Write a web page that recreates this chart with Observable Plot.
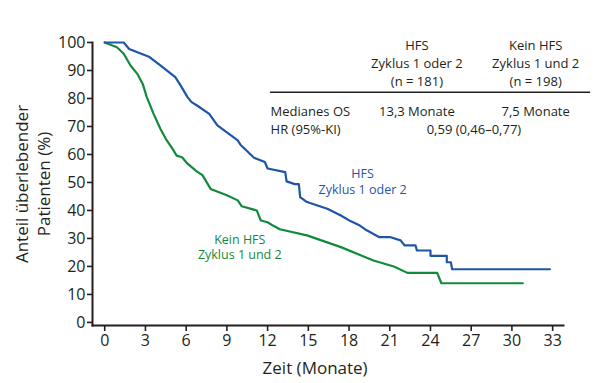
<!DOCTYPE html>
<html><head><meta charset="utf-8">
<script src="https://cdn.jsdelivr.net/npm/d3@7"></script>
<script src="https://cdn.jsdelivr.net/npm/@observablehq/plot@0.6"></script>
<style>body{margin:0;background:#fff}</style>
</head><body><div id="chart"></div>
<script>
// HFS Zyklus 1 oder 2 (n = 181)
const hfsMonths   = [0, 1.4, 1.8, 3.3, 4.1, 5.2, 5.6, 6.1, 6.4, 6.8, 7.7, 8.3, 9.8, 10.0, 11.0, 11.8, 12.0, 13.3, 13.4, 14.0, 14.3, 14.4, 14.9, 16.4, 17.4, 18.1, 18.8, 19.3, 20.2, 21.0, 21.8, 22.1, 22.9, 23.0, 24.0, 24.0, 25.2, 25.2, 25.5, 25.6, 32.8];
const hfsSurvival = [100, 100, 97.7, 94.8, 91.8, 87.6, 84.6, 80.5, 78.7, 77.5, 74.5, 70.4, 65.0, 63.5, 58.8, 57.3, 55.0, 53.7, 50.4, 49.4, 49.4, 44.8, 43.0, 40.6, 38.2, 36.2, 34.6, 32.9, 30.5, 30.5, 29.3, 27.5, 27.5, 25.7, 25.7, 23.8, 23.8, 21.5, 21.5, 19.0, 19.0];
// Kein HFS Zyklus 1 und 2 (n = 198)
const noHfsMonths   = [0, 0.9, 1.4, 1.9, 2.4, 2.8, 3.1, 3.6, 4.1, 4.5, 5.0, 5.3, 5.7, 6.1, 6.8, 7.2, 7.8, 9.0, 9.8, 10.1, 11.2, 11.5, 12.0, 12.4, 12.9, 14.9, 17.4, 19.8, 21.3, 22.3, 24.5, 24.8, 30.8];
const noHfsSurvival = [100, 98.3, 96.0, 91.8, 88.8, 85.2, 80.5, 74.5, 69.2, 65.6, 62.0, 59.6, 59.0, 56.7, 53.9, 52.6, 47.7, 45.4, 43.6, 41.5, 40.0, 36.4, 35.8, 34.6, 33.3, 31.1, 26.9, 22.1, 20.0, 17.7, 17.7, 14.0, 14.0];

const xTicks = [0, 3, 6, 9, 12, 15, 18, 21, 24, 27, 30, 33];
const yTicks = [0, 10, 20, 30, 40, 50, 60, 70, 80, 90, 100];

const xTitle = "Zeit (Monate)";
const yTitleLines = ["Anteil überlebender", "Patienten (%)"];

const headHfs = ["HFS", "Zyklus 1 oder 2", "(n = 181)"];
const headNoHfs = ["Kein HFS", "Zyklus 1 und 2", "(n = 198)"];
const rowLabels = ["Medianes OS", "HR (95%-KI)"];
const medianOS = ["13,3 Monate", "7,5 Monate"];
const hazardRatio = "0,59 (0,46–0,77)";
const labelHfs = ["HFS", "Zyklus 1 oder 2"];
const labelNoHfs = ["Kein HFS", "Zyklus 1 und 2"];

const BLUE = "#1f55a6";
const GREEN = "#128a3c";
const INK = "#231f20";
const FONT = "'Open Sans', sans-serif";

const hfs = hfsMonths.map((m, i) => ({month: m, surv: hfsSurvival[i]}));
const noHfs = noHfsMonths.map((m, i) => ({month: m, surv: noHfsSurvival[i]}));

const colX = [23.0, 31.75];
const headY = [98.9, 92.4, 85.8];
const rowY = [75.1, 68.8];

const plot = Plot.plot({
  width: 600,
  height: 383,
  marginTop: 42,
  marginBottom: 58,
  marginLeft: 92,
  marginRight: 37,
  style: {fontFamily: FONT, color: INK, background: "#fff", overflow: "visible"},
  x: {domain: [-0.9, 33.8]},
  y: {domain: [-1.1, 100]},
  marks: [
    Plot.axisX({ticks: xTicks, tickSize: 6, tickPadding: 3, fontSize: 16, label: null, strokeWidth: 1.6, stroke: INK, fill: INK}),
    Plot.axisY({ticks: yTicks, tickSize: 5, tickPadding: 2, fontSize: 16, label: null, strokeWidth: 1.6, stroke: INK, fill: INK}),
    Plot.frame({anchor: "left", stroke: INK, strokeWidth: 2}),
    Plot.frame({anchor: "bottom", stroke: INK, strokeWidth: 2}),
    Plot.text([xTitle], {x: 15.5, frameAnchor: "bottom", lineAnchor: "middle", textAnchor: "middle", dy: 43, fontSize: 17, fill: INK}),
    Plot.text([yTitleLines[0]], {frameAnchor: "left", textAnchor: "middle", lineAnchor: "middle", dx: -70, rotate: -90, fontSize: 17, fill: INK}),
    Plot.text([yTitleLines[1]], {frameAnchor: "left", textAnchor: "middle", lineAnchor: "middle", dx: -48, rotate: -90, fontSize: 17, fill: INK}),
    Plot.line(noHfs, {x: "month", y: "surv", stroke: GREEN, strokeWidth: 2.2}),
    Plot.line(hfs, {x: "month", y: "surv", stroke: BLUE, strokeWidth: 2.2}),
    Plot.text(labelHfs, {x: 19.0, y: (d, i) => [52.9, 47.4][i], fill: BLUE, fontSize: 12.5}),
    Plot.text(labelNoHfs, {x: 9.95, y: (d, i) => [29.6, 24.1][i], fill: GREEN, fontSize: 12.5}),
    Plot.text(headHfs, {x: colX[0], y: (d, i) => headY[i], fill: INK, fontSize: 13}),
    Plot.text(headNoHfs, {x: colX[1], y: (d, i) => headY[i], fill: INK, fontSize: 13}),
    Plot.ruleY([82.2], {x1: 12.22, x2: 35.8, stroke: INK, strokeWidth: 1.5}),
    Plot.text(rowLabels, {x: 12.22, y: (d, i) => rowY[i], textAnchor: "start", fill: INK, fontSize: 13}),
    Plot.text(medianOS, {x: (d, i) => colX[i], y: rowY[0], fill: INK, fontSize: 13}),
    Plot.text([hazardRatio], {x: 27.2, y: rowY[1], fill: INK, fontSize: 13})
  ]
});
document.getElementById("chart").append(plot);
</script>
</body></html>
